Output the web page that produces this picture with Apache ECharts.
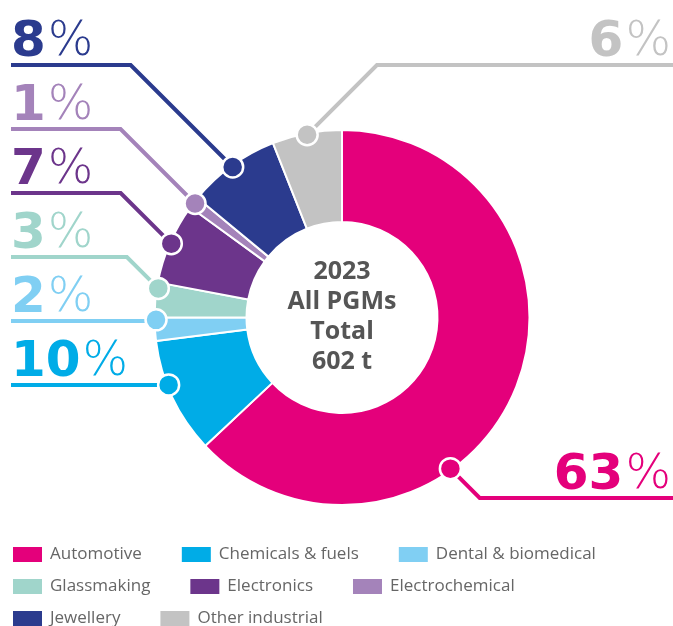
<!DOCTYPE html>
<html><head><meta charset="utf-8">
<script src="https://cdn.jsdelivr.net/npm/echarts@6/dist/echarts.min.js"></script>
<style>html,body{margin:0;padding:0;background:#fff}#c{width:673px;height:626px}</style>
</head><body><div id="c"></div>
<script>
// ---- data ----
const categories = ['Automotive','Chemicals & fuels','Dental & biomedical','Glassmaking','Electronics','Electrochemical','Jewellery','Other industrial'];
const shares = [63, 10, 2, 3, 7, 1, 8, 6];
const colors = ['#E4007B','#00ACE7','#80CFF3','#A0D5CB','#6C358B','#A483BA','#2B3B8E','#C3C3C3'];
const centerLines = ['2023','All PGMs','Total','602 t'];
const legendRows = [[0,1,2],[3,4,5],[6,7]];

// ---- layout ----
const CX = 342, CY = 317.5, R_IN = 95.5, R_OUT = 187.5, DOT_R = 186;
const labelSide = ['right','left','left','left','left','left','left','right'];
const lineY = [498, 385, 321, 257, 193, 129, 65, 65];
// label anchor positions along the ring (percent of full turn), where they differ from slice middles
const anchorOverride = {0: 40.1, 1: 69.1, 2: 74.8, 3: 77.5};
const FONT = 'Open Sans';
const BIG_FONT = 'DejaVu Sans';

const total = shares.reduce((a,b)=>a+b,0);
function anchorPct(i){
  if (anchorOverride[i] != null) return anchorOverride[i];
  let s = 0; for (let k=0;k<i;k++) s += shares[k];
  return (s + shares[i]/2) / total * 100;
}

const chart = echarts.init(document.getElementById('c'));
chart.setOption({
  animation: false,
  polar: {center: [CX, CY], radius: R_OUT},
  angleAxis: {type: 'value', min: 0, max: 100, startAngle: 90, clockwise: true, show: false},
  radiusAxis: {type: 'value', min: 0, max: R_OUT, show: false},
  graphic: [{
    type: 'text', x: CX, y: CY - 1, z: 100,
    style: {text: centerLines.join('\n'), align: 'center', verticalAlign: 'middle',
      font: 'bold 25px "' + FONT + '"', lineHeight: 30, fill: '#555555'}
  }],
  legend: legendRows.map((row, r) => ({
    data: row.map(i => categories[i]), left: 6, top: 540 + r*32, orient: 'horizontal',
    itemWidth: 31, itemHeight: 17, itemGap: 38, icon: 'rect', selectedMode: false,
    textStyle: {fontSize: 17, color: '#666666', fontFamily: FONT, padding: [0,0,0,2]}
  })),
  series: [{
    type: 'pie', center: [CX, CY], radius: [R_IN, R_OUT], startAngle: 90, clockwise: true,
    silent: true, avoidLabelOverlap: false,
    itemStyle: {borderColor: '#fff', borderWidth: 2},
    data: categories.map((n, i) => ({
      name: n, value: shares[i],
      itemStyle: {color: colors[i]},
      label: {color: colors[i]},
      labelLine: {lineStyle: {color: colors[i]}}
    })),
    label: {
      show: true, position: 'outside',
      formatter: p => '{n|' + p.value + '}{p|%}',
      rich: {
        n: {fontSize: 50, fontWeight: 'bold', fontFamily: BIG_FONT, lineHeight: 52},
        p: {fontSize: 48, fontWeight: 200, fontFamily: BIG_FONT, lineHeight: 52, padding: [0,0,0,2]}
      }
    },
    labelLine: {show: true, length: 10, length2: 10, smooth: false, lineStyle: {width: 4}},
    labelLayout: function (p) {
      const i = p.dataIndex;
      const th = anchorPct(i) / 100 * 2 * Math.PI;
      const dx = CX + DOT_R * Math.sin(th), dy = CY - DOT_R * Math.cos(th);
      const ly = lineY[i];
      const left = labelSide[i] === 'left';
      const d = Math.abs(dy - ly);
      const bx = left ? dx - d : dx + d;
      const ex = left ? 11 : 673;
      return {
        x: left ? 11 : 671, y: ly - 22, align: left ? 'left' : 'right', verticalAlign: 'middle',
        labelLinePoints: [[dx, dy], [bx, ly], [ex, ly]]
      };
    }
  }, {
    type: 'scatter', coordinateSystem: 'polar', silent: true, z: 10,
    symbolSize: 21,
    data: categories.map((n, i) => ({
      value: [DOT_R, anchorPct(i)],
      itemStyle: {color: colors[i], opacity: 1, borderColor: '#fff', borderWidth: 2.5}
    }))
  }]
});
</script></body></html>
